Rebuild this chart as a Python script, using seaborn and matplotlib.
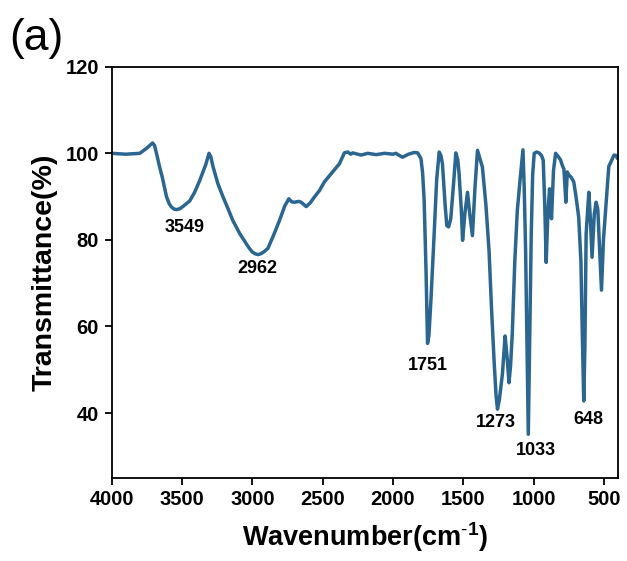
import matplotlib
matplotlib.use("Agg")
import matplotlib.pyplot as plt
import seaborn as sns
import pandas as pd

wavenumber = [
    4000, 3900, 3800, 3750, 3709, 3695, 3681, 3660, 3640, 3610, 3590, 3575, 3555, 3539, 3515,
    3490, 3445, 3410, 3374, 3330, 3308, 3295, 3280, 3245, 3209, 3170, 3139, 3090, 3043, 3020,
    3000, 2980, 2960, 2940, 2920, 2890, 2850, 2807, 2770, 2741, 2720, 2700, 2670, 2653, 2617,
    2590, 2559, 2523, 2488, 2429, 2381, 2346, 2322, 2300, 2287, 2227, 2180, 2120, 2060, 2000,
    1980, 1955, 1933, 1890, 1850, 1825, 1802, 1790, 1779, 1765, 1755, 1745, 1731, 1708, 1690,
    1672, 1660, 1649, 1630, 1618, 1605, 1590, 1570, 1554, 1540, 1531, 1515, 1506, 1490, 1471,
    1455, 1436, 1418, 1400, 1385, 1365, 1340, 1318, 1300, 1282, 1268, 1258, 1245, 1223, 1204,
    1190, 1176, 1165, 1153, 1135, 1117, 1100, 1077, 1068, 1058, 1048, 1039, 1030, 1018, 1008,
    997, 980, 963, 945, 933, 922, 912, 900, 888, 880, 874, 860, 845, 825, 810,
    795, 786, 772, 762, 751, 735, 716, 700, 681, 665, 655, 645, 637, 628, 609,
    598, 586, 570, 557, 545, 530, 519, 505, 490, 467, 455, 430, 415, 405,
]
transmittance = [
    100.0, 99.8, 100.0, 101.2, 102.4, 101.8, 100.0, 97.0, 94.5, 90.0, 88.3, 87.6, 87.1, 87.0, 87.2,
    87.8, 89.0, 91.0, 93.7, 97.5, 100.0, 99.2, 97.0, 93.0, 90.0, 87.0, 84.5, 81.5, 79.1, 78.0,
    77.2, 76.8, 76.6, 76.8, 77.2, 78.0, 81.0, 84.5, 87.8, 89.5, 88.8, 88.7, 88.9, 88.7, 87.7,
    88.5, 89.9, 91.4, 93.4, 95.7, 97.6, 100.1, 100.3, 99.8, 100.1, 99.6, 100.0, 99.7, 100.0, 99.8,
    100.0, 99.5, 99.1, 99.8, 100.2, 100.1, 98.8, 95.5, 89.1, 72.0, 56.1, 58.0, 66.0, 81.4, 94.0,
    100.3, 99.5, 97.6, 88.0, 83.3, 83.0, 84.9, 93.0, 100.1, 98.5, 95.3, 87.0, 79.9, 86.0, 91.0,
    86.0, 81.0, 92.0, 100.7, 99.0, 96.8, 88.0, 77.5, 64.0, 52.0, 44.0, 40.9, 43.0, 49.0, 57.8,
    53.0, 47.0, 51.0, 58.2, 75.0, 86.8, 93.0, 100.8, 92.0, 77.5, 55.0, 35.1, 55.0, 81.4, 95.0,
    100.0, 100.3, 100.1, 99.5, 98.4, 88.0, 74.8, 86.0, 91.8, 88.0, 84.9, 96.0, 100.0, 99.2, 98.5,
    97.0, 96.4, 88.7, 95.7, 95.0, 94.5, 93.4, 90.0, 85.3, 75.0, 58.0, 42.8, 55.0, 81.4, 91.0,
    85.0, 76.0, 86.0, 88.7, 87.0, 76.0, 68.4, 80.0, 86.8, 97.0, 97.8, 99.6, 99.5, 98.8,
]

peak_labels = ["3549", "2962", "1751", "1273", "1033", "648"]
label_x = [3480, 2962, 1750, 1268, 984, 615]
label_y = [82.8, 73.3, 50.9, 37.7, 31.4, 38.4]

x_ticks = [4000, 3500, 3000, 2500, 2000, 1500, 1000, 500]
y_ticks = [40, 60, 80, 100, 120]

sns.set_theme(style="ticks")
plt.rcParams["font.family"] = ["Liberation Sans", "DejaVu Sans"]
plt.rcParams["mathtext.fontset"] = "custom"
plt.rcParams["mathtext.rm"] = "Liberation Sans"
plt.rcParams["mathtext.bf"] = "Liberation Sans:bold"
plt.rcParams["text.color"] = "black"
plt.rcParams["axes.labelcolor"] = "black"
plt.rcParams["xtick.color"] = "black"
plt.rcParams["ytick.color"] = "black"

df = pd.DataFrame({"wn": wavenumber, "T": transmittance})

fig = plt.figure(figsize=(6.27, 5.61), dpi=100)
ax = fig.add_axes([0.178, 0.148, 0.808, 0.733])

sns.lineplot(data=df, x="wn", y="T", sort=False, estimator=None, ax=ax,
             color="#2a6690", linewidth=2.5)

ax.set_xlim(4000, 400)
ax.set_ylim(25, 120)
ax.set_xticks(x_ticks)
ax.set_yticks(y_ticks)
ax.set_xticklabels([str(t) for t in x_ticks], fontsize=14.5, fontweight="bold", color="black")
ax.set_yticklabels([str(t) for t in y_ticks], fontsize=14.5, fontweight="bold", color="black")
ax.tick_params(axis="both", direction="out", length=5, width=1.3, top=False, right=False,
               pad=4, colors="black")
for s in ax.spines.values():
    s.set_visible(True)
    s.set_linewidth(1.3)
    s.set_color("black")

ax.set_xlabel("Wavenumber(cm$^{\\mathbf{\\text{-}1}}$)", fontsize=19.5, fontweight="bold",
              labelpad=8, color="black")
ax.set_ylabel("Transmittance(%)", fontsize=20.5, fontweight="bold", labelpad=6, color="black")

for txt, lx, ly in zip(peak_labels, label_x, label_y):
    ax.text(lx, ly, txt, ha="center", va="center", fontsize=13, fontweight="bold", color="black")

fig.text(0.014, 0.968, "(a)", ha="left", va="top", fontsize=32, color="black")

fig.savefig("out.png", dpi=100, facecolor="white")
